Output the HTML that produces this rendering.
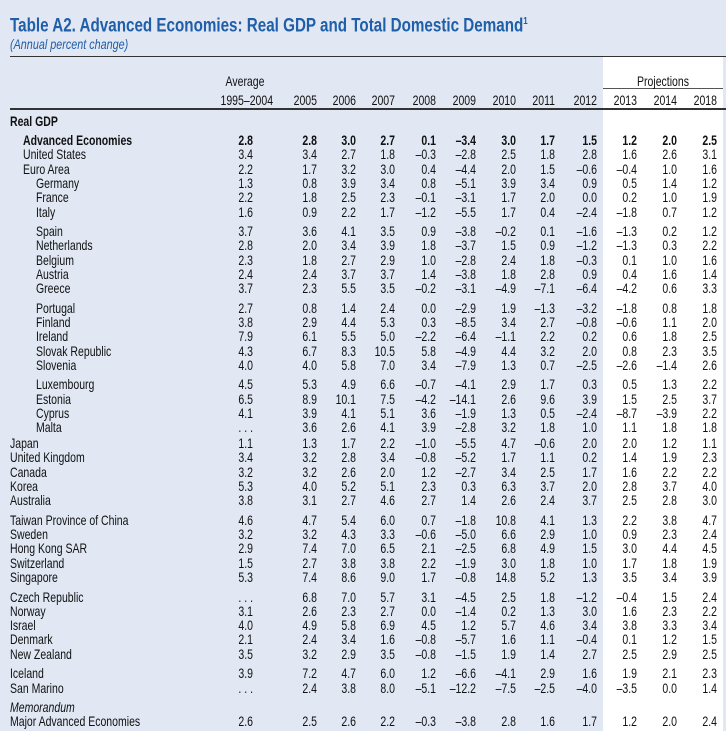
<!DOCTYPE html>
<html><head><meta charset="utf-8">
<style>
html,body{margin:0;padding:0}
body{width:726px;height:731px;background:#e1e8f4;position:relative;overflow:hidden;font-family:"Liberation Sans",sans-serif;color:#111}
.t{position:absolute;white-space:nowrap;font-size:14px;line-height:14px}
.l{transform-origin:left center;transform:scaleX(0.75)}
.r{transform-origin:right center;transform:scaleX(0.75)}
.c{transform-origin:center center;transform:scaleX(0.75)}
.hl{position:absolute;height:1px;background:#333}
</style></head><body>
<div style="position:absolute;left:603px;top:57px;width:120px;height:674px;background:#fff"></div>
<div class="t" style="left:10px;top:11px;font-size:19px;line-height:22px;font-weight:bold;color:#1f5ea8;transform-origin:left center;transform:scaleX(0.8)">Table A2. Advanced Economies: Real GDP and Total Domestic Demand<sup style="font-size:10px">1</sup></div>
<div class="t" style="left:10px;top:38px;font-size:13.5px;font-style:italic;color:#1f5ea8;transform-origin:left center;transform:scaleX(0.8)">(Annual percent change)</div>
<div class="hl" style="left:10px;top:56px;width:716px"></div>
<div class="hl" style="left:603px;top:88px;width:120px;background:#555"></div>
<div class="hl" style="left:10px;top:108px;width:716px;height:1.5px"></div>
<div class="t c" style="left:205px;width:80px;text-align:center;top:74px">Average</div>
<div class="t c" style="left:603px;width:120px;text-align:center;top:74px">Projections</div>
<div class="t l" style="left:10px;top:114px;font-weight:bold">Real GDP</div>
<div id="tbl"></div>
<script>
const years=["1995–2004","2005","2006","2007","2008","2009","2010","2011","2012","2013","2014","2018"];
const rows=[
["Advanced Economies",1,1,0,"2.8 2.8 3.0 2.7 0.1 –3.4 3.0 1.7 1.5 1.2 2.0 2.5"],
["United States",1,0,0,"3.4 3.4 2.7 1.8 –0.3 –2.8 2.5 1.8 2.8 1.6 2.6 3.1"],
["Euro Area",1,0,0,"2.2 1.7 3.2 3.0 0.4 –4.4 2.0 1.5 –0.6 –0.4 1.0 1.6"],
["Germany",2,0,0,"1.3 0.8 3.9 3.4 0.8 –5.1 3.9 3.4 0.9 0.5 1.4 1.2"],
["France",2,0,0,"2.2 1.8 2.5 2.3 –0.1 –3.1 1.7 2.0 0.0 0.2 1.0 1.9"],
["Italy",2,0,0,"1.6 0.9 2.2 1.7 –1.2 –5.5 1.7 0.4 –2.4 –1.8 0.7 1.2"],
["Spain",2,0,1,"3.7 3.6 4.1 3.5 0.9 –3.8 –0.2 0.1 –1.6 –1.3 0.2 1.2"],
["Netherlands",2,0,0,"2.8 2.0 3.4 3.9 1.8 –3.7 1.5 0.9 –1.2 –1.3 0.3 2.2"],
["Belgium",2,0,0,"2.3 1.8 2.7 2.9 1.0 –2.8 2.4 1.8 –0.3 0.1 1.0 1.6"],
["Austria",2,0,0,"2.4 2.4 3.7 3.7 1.4 –3.8 1.8 2.8 0.9 0.4 1.6 1.4"],
["Greece",2,0,0,"3.7 2.3 5.5 3.5 –0.2 –3.1 –4.9 –7.1 –6.4 –4.2 0.6 3.3"],
["Portugal",2,0,1,"2.7 0.8 1.4 2.4 0.0 –2.9 1.9 –1.3 –3.2 –1.8 0.8 1.8"],
["Finland",2,0,0,"3.8 2.9 4.4 5.3 0.3 –8.5 3.4 2.7 –0.8 –0.6 1.1 2.0"],
["Ireland",2,0,0,"7.9 6.1 5.5 5.0 –2.2 –6.4 –1.1 2.2 0.2 0.6 1.8 2.5"],
["Slovak Republic",2,0,0,"4.3 6.7 8.3 10.5 5.8 –4.9 4.4 3.2 2.0 0.8 2.3 3.5"],
["Slovenia",2,0,0,"4.0 4.0 5.8 7.0 3.4 –7.9 1.3 0.7 –2.5 –2.6 –1.4 2.6"],
["Luxembourg",2,0,1,"4.5 5.3 4.9 6.6 –0.7 –4.1 2.9 1.7 0.3 0.5 1.3 2.2"],
["Estonia",2,0,0,"6.5 8.9 10.1 7.5 –4.2 –14.1 2.6 9.6 3.9 1.5 2.5 3.7"],
["Cyprus",2,0,0,"4.1 3.9 4.1 5.1 3.6 –1.9 1.3 0.5 –2.4 –8.7 –3.9 2.2"],
["Malta",2,0,0,". . . 3.6 2.6 4.1 3.9 –2.8 3.2 1.8 1.0 1.1 1.8 1.8"],
["Japan",0,0,0.3,"1.1 1.3 1.7 2.2 –1.0 –5.5 4.7 –0.6 2.0 2.0 1.2 1.1"],
["United Kingdom",0,0,0,"3.4 3.2 2.8 3.4 –0.8 –5.2 1.7 1.1 0.2 1.4 1.9 2.3"],
["Canada",0,0,0,"3.2 3.2 2.6 2.0 1.2 –2.7 3.4 2.5 1.7 1.6 2.2 2.2"],
["Korea",0,0,0,"5.3 4.0 5.2 5.1 2.3 0.3 6.3 3.7 2.0 2.8 3.7 4.0"],
["Australia",0,0,0,"3.8 3.1 2.7 4.6 2.7 1.4 2.6 2.4 3.7 2.5 2.8 3.0"],
["Taiwan Province of China",0,0,1,"4.6 4.7 5.4 6.0 0.7 –1.8 10.8 4.1 1.3 2.2 3.8 4.7"],
["Sweden",0,0,0,"3.2 3.2 4.3 3.3 –0.6 –5.0 6.6 2.9 1.0 0.9 2.3 2.4"],
["Hong Kong SAR",0,0,0,"2.9 7.4 7.0 6.5 2.1 –2.5 6.8 4.9 1.5 3.0 4.4 4.5"],
["Switzerland",0,0,0,"1.5 2.7 3.8 3.8 2.2 –1.9 3.0 1.8 1.0 1.7 1.8 1.9"],
["Singapore",0,0,0,"5.3 7.4 8.6 9.0 1.7 –0.8 14.8 5.2 1.3 3.5 3.4 3.9"],
["Czech Republic",0,0,1,". . . 6.8 7.0 5.7 3.1 –4.5 2.5 1.8 –1.2 –0.4 1.5 2.4"],
["Norway",0,0,0,"3.1 2.6 2.3 2.7 0.0 –1.4 0.2 1.3 3.0 1.6 2.3 2.2"],
["Israel",0,0,0,"4.0 4.9 5.8 6.9 4.5 1.2 5.7 4.6 3.4 3.8 3.3 3.4"],
["Denmark",0,0,0,"2.1 2.4 3.4 1.6 –0.8 –5.7 1.6 1.1 –0.4 0.1 1.2 1.5"],
["New Zealand",0,0,0,"3.5 3.2 2.9 3.5 –0.8 –1.5 1.9 1.4 2.7 2.5 2.9 2.5"],
["Iceland",0,0,1,"3.9 7.2 4.7 6.0 1.2 –6.6 –4.1 2.9 1.6 1.9 2.1 2.3"],
["San Marino",0,0,0,". . . 2.4 3.8 8.0 –5.1 –12.2 –7.5 –2.5 –4.0 –3.5 0.0 1.4"],
["Memorandum",0,0,1,""],
["Major Advanced Economies",0,0,0,"2.6 2.5 2.6 2.2 –0.3 –3.8 2.8 1.6 1.7 1.2 2.0 2.4"]
];
const colRight=[253,317,356,395,436,476,516,555,597,637,677,717];
const tbl=document.getElementById('tbl');
function mk(txt,cls,left,top,extra){
  const d=document.createElement('div');
  d.className='t '+cls;
  d.textContent=txt;
  d.style.top=top+'px';
  if(cls==='r'){d.style.left=(left-70)+'px';d.style.width='70px';d.style.textAlign='right';}
  else d.style.left=left+'px';
  if(extra) Object.assign(d.style,extra);
  tbl.appendChild(d);
  return d;
}
years.forEach((y,i)=>{
  const d=mk(y,'r',colRight[i]+(i===0?20:0),93);
  
  
});
let y=133;
rows.forEach((r,ri)=>{
  y+=r[3]*5.2;
  const indent=[10,23,36][r[1]];
  const bold=r[2]?{fontWeight:'bold'}:null;
  const isMemo=r[0]==='Memorandum';
  const lab=mk(r[0],'l',indent,y,isMemo?{fontStyle:'italic'}:bold);
  
  
  if(r[4]){
    let s=r[4];let vals;
    if(s.startsWith('. . .')){vals=['. . .'].concat(s.slice(6).split(' '));}
    else vals=s.split(' ');
    vals.forEach((v,i)=>{
      const d=mk(v,'r',colRight[i],y,bold);
      
      
    });
  }
  y+=14.3;
});
</script>
</body></html>
